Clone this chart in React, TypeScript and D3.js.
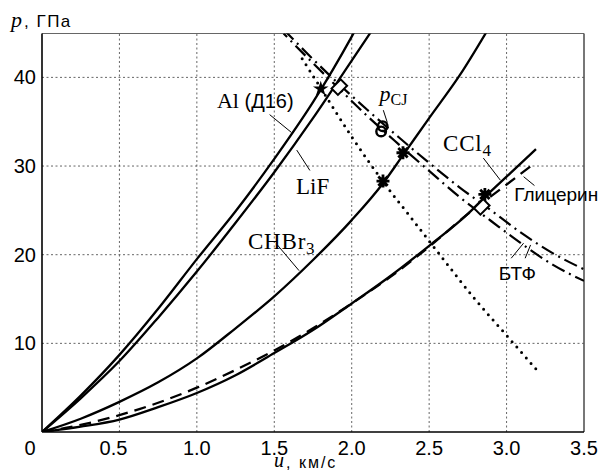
import * as d3 from 'd3';
import React from 'react';

// shock Hugoniots, u in km/s, p in GPa
const alU = [0, 0.25, 0.5, 0.75, 1.0, 1.25, 1.5, 1.75, 2.0, 2.05];
const alP = [0, 4.1, 8.7, 13.9, 19.5, 24.9, 30.8, 37.2, 44.6, 46.2];

const lifU = [0, 0.25, 0.5, 0.75, 1.0, 1.25, 1.5, 1.75, 2.0, 2.15];
const lifP = [0, 3.8, 8.0, 12.9, 18.1, 23.6, 29.3, 35.4, 41.9, 45.8];

const chbrU = [0, 0.25, 0.5, 0.75, 1.0, 1.25, 1.5, 1.75, 2.0, 2.2, 2.33, 2.5, 2.7, 2.9];
const chbrP = [0, 1.5, 3.4, 5.6, 8.3, 11.7, 15.3, 19.4, 23.9, 28.0, 31.2, 35.4, 40.3, 46.0];

const cclU = [0, 0.25, 0.5, 0.75, 1.0, 1.25, 1.5, 1.75, 2.0, 2.25, 2.5, 2.75, 2.86, 3.0, 3.19];
const cclP = [0, 0.6, 1.4, 2.8, 4.4, 6.4, 8.9, 11.5, 14.5, 17.6, 21.0, 24.6, 26.5, 28.8, 31.9];

// glycerin (dashed)
const glyU = [0, 0.25, 0.5, 0.75, 1.0, 1.25, 1.5, 1.75, 2.0, 2.25, 2.5, 2.75, 3.0, 3.18];
const glyP = [0, 0.8, 1.9, 3.3, 5.0, 7.0, 9.2, 11.7, 14.5, 17.5, 20.9, 24.6, 27.9, 30.3];

// БТФ isentropes (dash-dot, two of them)
const btfAU = [1.56, 1.75, 1.92, 2.1, 2.3, 2.5, 2.7, 2.9, 3.1, 3.3, 3.5];
const btfAP = [45.4, 42.05, 39.2, 36.35, 33.3, 30.35, 27.55, 25.0, 22.4, 20.15, 18.35];
const btfBU = [1.56, 1.75, 1.92, 2.1, 2.3, 2.5, 2.7, 2.9, 3.1, 3.3, 3.5];
const btfBP = [44.95, 41.6, 38.7, 35.65, 32.5, 29.45, 26.45, 23.8, 21.2, 18.85, 17.05];

// dotted line
const dotU = [1.68, 1.8, 2.0, 2.2, 2.4, 2.6, 2.8, 3.0, 3.21];
const dotP = [42.1, 38.8, 33.3, 28.3, 23.8, 19.3, 14.9, 10.9, 6.7];

// markers
const starPts = [[1.8, 38.7]];
const asterPts = [[2.331, 31.5], [2.202, 28.3], [2.86, 26.8]];
const diamPts = [[1.92, 38.9], [2.84, 25.4]];
const cjPts = [[2.2, 34.5], [2.19, 33.9]];

const uTicks = [0, 0.5, 1.0, 1.5, 2.0, 2.5, 3.0, 3.5];
const uLabels = ['0', '0.5', '1.0', '1.5', '2.0', '2.5', '3.0', '3.5'];
const pTicks = [10, 20, 30, 40];

const x = d3.scaleLinear().domain([0, 3.5]).range([42, 584]);
const y = d3.scaleLinear().domain([0, 44.95]).range([432, 33.5]);

const pts = (us, ps) => us.map((u, i) => [u, ps[i]]);
const line = d3.line().x(d => x(d[0])).y(d => y(d[1])).curve(d3.curveMonotoneX);

const SANS = 'Liberation Sans, Arial, sans-serif';
const SERIF = 'Liberation Serif, Times New Roman, serif';

const aster = (r) => {
  const k = r * 0.72;
  return `M${-r},0H${r}M0,${-r}V${r}M${-k},${-k}L${k},${k}M${-k},${k}L${k},${-k}`;
};

const App = () => {
  const [x0, x1] = x.range();
  const [y0, y1] = y.range();
  const star = d3.symbol(d3.symbolStar, 75)();

  return (
    <svg width={605} height={472} style={{ position: 'absolute', left: 0, top: 0, background: '#fff' }}>
      <defs>
        <clipPath id="plot">
          <rect x={x0} y={y1} width={x1 - x0} height={y0 - y1} />
        </clipPath>
      </defs>

      {/* grid */}
      {uTicks.slice(1, -1).map(t => (
        <line key={'gx' + t} x1={x(t)} x2={x(t)} y1={y0} y2={y1} stroke="#555" strokeWidth={0.9} strokeDasharray="2,2.5" />
      ))}
      {pTicks.map(t => (
        <line key={'gy' + t} x1={x0} x2={x1} y1={y(t)} y2={y(t)} stroke="#555" strokeWidth={0.9} strokeDasharray="2,2.5" />
      ))}

      {/* frame */}
      <line x1={x0} x2={x1} y1={y1} y2={y1} stroke="#666" strokeWidth={1} />
      <line x1={x1} x2={x1} y1={y1} y2={y0} stroke="#555" strokeWidth={1.6} />
      <line x1={x0} x2={x1} y1={y0} y2={y0} stroke="#000" strokeWidth={1.6} />
      <line x1={x0} x2={x0} y1={y1} y2={y0} stroke="#000" strokeWidth={1.6} />

      <g clipPath="url(#plot)" fill="none" stroke="#000">
        <path d={line(pts(alU, alP))} strokeWidth={2.3} />
        <path d={line(pts(lifU, lifP))} strokeWidth={2.3} />
        <path d={line(pts(chbrU, chbrP))} strokeWidth={2.3} />
        <path d={line(pts(cclU, cclP))} strokeWidth={2.3} />
        <path d={line(pts(glyU, glyP))} strokeWidth={2.3} strokeDasharray="12,7" />
        <path d={line(pts(btfAU, btfAP))} strokeWidth={2.2} strokeDasharray="14,5,2,5" />
        <path d={line(pts(btfBU, btfBP))} strokeWidth={2.2} strokeDasharray="14,5,2,5" strokeDashoffset={9} />
        <path d={line(pts(dotU, dotP))} strokeWidth={3} strokeLinecap="round" strokeDasharray="0,7.2" />
      </g>

      {/* markers */}
      {starPts.map((d, i) => (
        <path key={'s' + i} d={star} transform={`translate(${x(d[0])},${y(d[1])})`} fill="#000" />
      ))}
      {asterPts.map((d, i) => (
        <path key={'a' + i} d={aster(6.5)} transform={`translate(${x(d[0])},${y(d[1])})`} stroke="#000" strokeWidth={2.8} fill="none" />
      ))}
      {diamPts.map((d, i) => (
        <rect key={'d' + i} x={-6.5} y={-4.5} width={13} height={9} transform={`translate(${x(d[0])},${y(d[1])}) rotate(-45)`} fill="#fff" stroke="#000" strokeWidth={2} />
      ))}
      {cjPts.map((d, i) => (
        <circle key={'c' + i} cx={x(d[0])} cy={y(d[1])} r={4.8} fill="none" stroke="#000" strokeWidth={2.4} />
      ))}

      {/* tick labels */}
      <g fontFamily={SANS} fontSize={20} fill="#000">
        {uTicks.map((t, i) => (
          <text key={'xt' + t} x={x(t) + (i === 0 ? -12 : i === 1 ? -6 : 0)} y={455} textAnchor="middle">{uLabels[i]}</text>
        ))}
        {pTicks.map(t => (
          <text key={'yt' + t} x={36} y={y(t) + 7} textAnchor="end">{t}</text>
        ))}
      </g>

      {/* axis titles */}
      <text x={11} y={27} fontFamily={SERIF} fontStyle="italic" fontSize={22}>p</text>
      <text x={24} y={27} fontFamily={SANS} fontSize={17} letterSpacing={1.5}>, ГПа</text>
      <text x={274} y={467} fontFamily={SERIF} fontStyle="italic" fontSize={20}>u</text>
      <text x={286} y={468} fontFamily={SANS} fontSize={16} letterSpacing={2}>, км/с</text>

      {/* curve labels */}
      <g fontFamily={SERIF} fontSize={22} fill="#000">
        <text x={x(1.13)} y={y(36.5)}>
          Al <tspan fontFamily={SANS} fontSize={20}>(Д16)</tspan>
        </text>
        <text x={x(1.64)} y={y(26.9)} fontSize={23}>LiF</text>
        <text x={x(1.33)} y={y(20.6)} fontSize={23} letterSpacing={0.8}>CHBr<tspan fontSize={17} dy={5}>3</tspan></text>
        <text x={x(2.59)} y={y(31.7)} fontSize={23} letterSpacing={0.8}>CCl<tspan fontSize={17} dy={5}>4</tspan></text>
        <text x={x(2.18)} y={y(37.3)} fontStyle="italic">p<tspan fontStyle="normal" fontSize={16} dy={4}>CJ</tspan></text>
      </g>
      <g fontFamily={SANS} fontSize={19} fill="#000">
        <text x={x(3.05)} y={y(26.0)}>Глицерин</text>
        <text x={x(2.95)} y={y(17.2)}>БТФ</text>
      </g>

      {/* leaders */}
      <g stroke="#000" strokeWidth={1}>
        <line x1={x(1.47)} y1={y(35.8)} x2={x(1.61)} y2={y(33.8)} />
        <line x1={x(1.645)} y1={y(31.8)} x2={x(1.73)} y2={y(29.5)} />
        <line x1={x(1.52)} y1={y(21.1)} x2={x(1.66)} y2={y(18.2)} />
        <line x1={x(2.85)} y1={y(30.9)} x2={x(2.96)} y2={y(28.4)} />
        <line x1={x(2.204)} y1={y(36.3)} x2={x(2.23)} y2={y(34.9)} />
        <line x1={x(3.11)} y1={y(28.8)} x2={x(3.18)} y2={y(27.8)} />
        <line x1={x(3.03)} y1={y(19.6)} x2={x(3.11)} y2={y(21.3)} />
        <line x1={x(3.12)} y1={y(19.6)} x2={x(3.155)} y2={y(21.1)} />
      </g>
    </svg>
  );
};

export default App;
